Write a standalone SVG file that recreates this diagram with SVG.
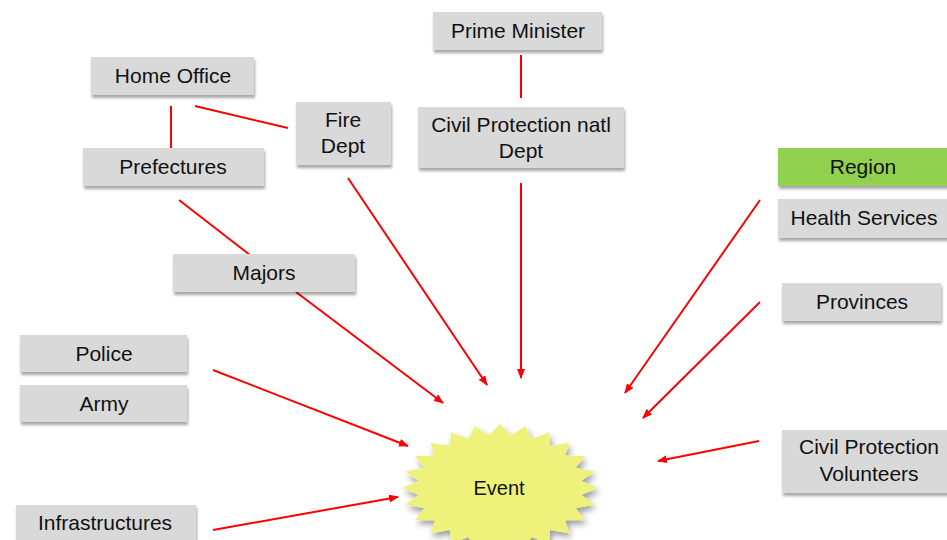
<svg xmlns="http://www.w3.org/2000/svg" width="947" height="540" viewBox="0 0 947 540">
<style>
.box{fill:#D9D9D9;filter:url(#sh)}
.green{fill:#92D050;filter:url(#sh)}
.t{font-family:"Liberation Sans",Arial,sans-serif;font-size:21px;fill:#111;text-anchor:middle}
.c{stroke:#FF0000;stroke-width:2;fill:none}
.a{marker-end:url(#ar)}
</style>
<defs>
<filter id="sh" x="-10%" y="-20%" width="130%" height="150%">
<feGaussianBlur in="SourceAlpha" stdDeviation="1.5"/>
<feOffset dx="1" dy="3" result="o"/>
<feComponentTransfer><feFuncA type="linear" slope="0.35"/></feComponentTransfer>
<feMerge><feMergeNode/><feMergeNode in="SourceGraphic"/></feMerge>
</filter>
<filter id="sh2" x="-20%" y="-20%" width="140%" height="150%">
<feGaussianBlur in="SourceAlpha" stdDeviation="3"/>
<feOffset dx="2" dy="4" result="o"/>
<feComponentTransfer><feFuncA type="linear" slope="0.4"/></feComponentTransfer>
<feMerge><feMergeNode/><feMergeNode in="SourceGraphic"/></feMerge>
</filter>
<marker id="ar" markerWidth="10" markerHeight="8" refX="9" refY="4" orient="auto" markerUnits="userSpaceOnUse">
<path d="M0,0 L10,4 L0,8 Z" fill="#FF0000"/>
</marker>
</defs>
<rect width="947" height="540" fill="#FFFFFF"/>

<g id="connectors">
<line class="c" x1="521" y1="55" x2="521" y2="98"/>
<line class="c" x1="171" y1="106" x2="171" y2="149"/>
<line class="c" x1="195" y1="106" x2="288" y2="128"/>
<line class="c" x1="179" y1="200" x2="250" y2="255"/>
<line class="c a" x1="521" y1="183" x2="521" y2="378"/>
<line class="c a" x1="348" y1="178" x2="487" y2="385"/>
<line class="c a" x1="296" y1="292" x2="443" y2="403"/>
<line class="c a" x1="213" y1="370" x2="408" y2="446"/>
<line class="c a" x1="213" y1="530" x2="398" y2="497"/>
<line class="c a" x1="760" y1="200" x2="625" y2="393"/>
<line class="c a" x1="760" y1="302" x2="643" y2="418"/>
<line class="c a" x1="759" y1="441" x2="658" y2="461"/>
</g>

<g id="prime-minister"><rect class="box" x="433" y="12" width="169" height="38"/><text class="t" x="518" y="38">Prime Minister</text></g>
<g id="cp-natl-dept"><rect class="box" x="418" y="107" width="206" height="61"/><text class="t" x="521" y="132">Civil Protection natl</text><text class="t" x="521" y="158">Dept</text></g>
<g id="home-office"><rect class="box" x="91" y="57" width="163" height="38"/><text class="t" x="173" y="83">Home Office</text></g>
<g id="fire-dept"><rect class="box" x="296" y="102" width="95" height="63"/><text class="t" x="343" y="127">Fire</text><text class="t" x="343" y="153">Dept</text></g>
<g id="prefectures"><rect class="box" x="83" y="148" width="181" height="38"/><text class="t" x="173" y="174">Prefectures</text></g>
<g id="majors"><rect class="box" x="173" y="254" width="182" height="38"/><text class="t" x="264" y="280">Majors</text></g>
<g id="police"><rect class="box" x="20" y="335" width="167" height="37"/><text class="t" x="104" y="361">Police</text></g>
<g id="army"><rect class="box" x="20" y="385" width="167" height="37"/><text class="t" x="104" y="411">Army</text></g>
<g id="infrastructures"><rect class="box" x="16" y="505" width="180" height="40"/><text class="t" x="105" y="530">Infrastructures</text></g>
<g id="region"><rect class="green" x="778" y="148" width="172" height="38"/><text class="t" x="863" y="174">Region</text></g>
<g id="health-services"><rect class="box" x="778" y="199" width="172" height="39"/><text class="t" x="864" y="225">Health Services</text></g>
<g id="provinces"><rect class="box" x="782" y="283" width="159" height="38"/><text class="t" x="862" y="309">Provinces</text></g>
<g id="cp-volunteers"><rect class="box" x="782" y="430" width="168" height="63"/><text class="t" x="869" y="454">Civil Protection</text><text class="t" x="869" y="481">Volunteers</text></g>

<g id="event">
<polygon filter="url(#sh2)" fill="#EEF27A" points="500,424 510.7,435.5 525.4,426.2 531.4,439 549,432.6 549.9,446 569.3,442.7 565.1,455.7 584.9,456 575.8,467.7 594.7,471.4 581.3,481.1 598,488 581.3,494.9 594.7,504.6 575.8,508.3 584.9,520 565.1,520.3 569.3,533.3 549.9,530 549,543.4 531.4,537 525.4,549.8 510.7,540.5 500,552 489.3,540.5 474.6,549.8 468.6,537 451,543.4 450.1,530 430.7,533.3 434.9,520.3 415.1,520 424.2,508.3 405.3,504.6 418.7,494.9 402,488 418.7,481.1 405.3,471.4 424.2,467.7 415.1,456 434.9,455.7 430.7,442.7 450.1,446 451,432.6 468.6,439 474.6,426.2 489.3,435.5"/>
<text class="t" x="499" y="495" style="font-size:20px">Event</text>
</g>
</svg>
